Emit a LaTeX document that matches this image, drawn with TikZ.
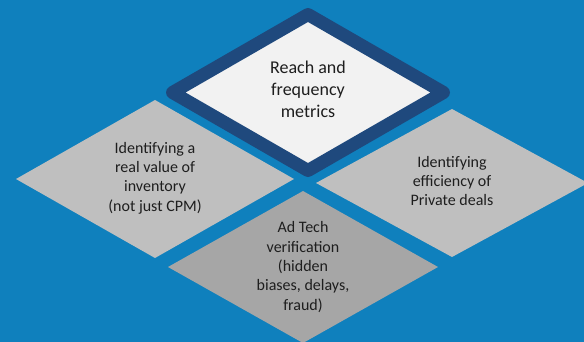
\documentclass[tikz,border=0pt]{standalone}
\usepackage{fontspec}
\setmainfont{Carlito}
\usetikzlibrary{shapes.geometric}
\definecolor{bgblue}{HTML}{0F80BD}
\definecolor{navy}{HTML}{1F497D}
\definecolor{paper}{HTML}{F2F2F2}
\definecolor{lgray}{HTML}{BFBFBF}
\definecolor{dgray}{HTML}{A6A6A6}
\definecolor{ink}{HTML}{1E1E1E}
\begin{document}
\begin{tikzpicture}[x=1pt,y=-1pt,
  dia/.style={diamond, inner sep=0pt, outer sep=0pt, draw=none},
  bigtxt/.style={text=ink, align=center, font=\fontsize{18}{22}\selectfont},
  smtxt/.style={text=ink, align=center, font=\fontsize{16}{19.3}\selectfont}]
\fill[bgblue] (0,0) rectangle (584,342);
\useasboundingbox (0,0) rectangle (584,342);
% side and bottom diamonds
\node[dia, fill=lgray, minimum width=278pt, minimum height=158pt] (L) at (155,179) {};
\node[dia, fill=lgray, minimum width=272pt, minimum height=148pt] (R) at (452,183) {};
\node[dia, fill=dgray, minimum width=270pt, minimum height=152pt] (B) at (303,267) {};
% top diamond
\node[dia, fill=paper, draw=navy, line width=13pt, line join=round,
      minimum width=271pt, minimum height=156pt] (T) at (308,92.5) {};
% texts
\node[bigtxt] (Tt) at ([yshift=3pt]T.center) {Reach and\\frequency\\metrics};
\node[smtxt] (Lt) at ([yshift=1pt]L.center) {Identifying a\\real value of\\inventory\\(not just CPM)};
\node[smtxt] (Rt) at ([yshift=2pt]R.center) {Identifying\\efficiency of\\Private deals};
\node[smtxt] (Bt) at ([yshift=0pt]B.center) {Ad Tech\\verification\\(hidden\\biases, delays,\\fraud)};
\end{tikzpicture}
\end{document}
